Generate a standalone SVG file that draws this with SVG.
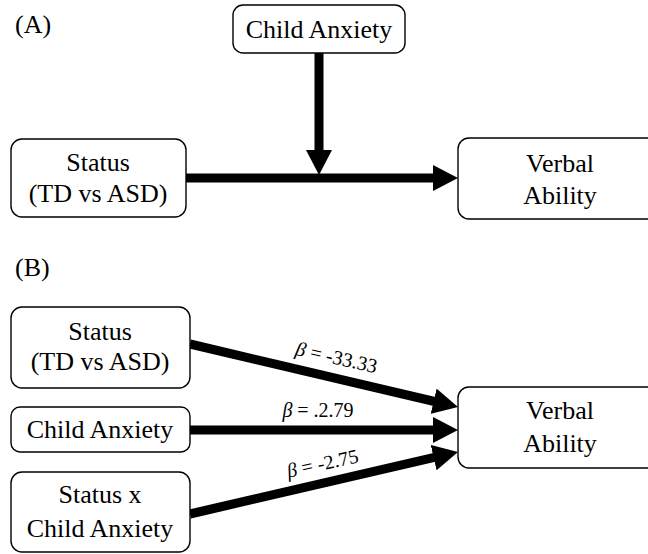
<svg xmlns="http://www.w3.org/2000/svg" width="648" height="554" viewBox="0 0 648 554">
<defs>
<marker id="ah" markerUnits="userSpaceOnUse" markerWidth="25" markerHeight="26" viewBox="0 0 25 26" refX="13" refY="13" orient="auto">
<path d="M0,0 L25,13 L0,26 z" fill="#000"/>
</marker>
</defs>
<g font-family="Liberation Serif" font-size="26" text-anchor="middle" fill="#000">
<text x="15" y="33" text-anchor="start" font-family="Liberation Serif">(A)</text>
<text x="15" y="276" text-anchor="start" font-family="Liberation Serif">(B)</text>
</g>
<g id="connectors" stroke="#000" stroke-width="9" fill="none" marker-end="url(#ah)">
<line x1="186" y1="178" x2="446" y2="178"/>
<line x1="319" y1="53" x2="319" y2="163"/>
<line x1="190" y1="344" x2="446.3" y2="404.25"/>
<line x1="190" y1="430" x2="446" y2="430"/>
<line x1="190" y1="514" x2="446.3" y2="454.7"/>
</g>
<g id="labels" font-size="20" text-anchor="middle" fill="#000">
<text font-family="Liberation Serif" transform="translate(335,364) rotate(12.8)"><tspan font-style="italic">β</tspan> = -33.33</text>
<text font-family="Liberation Serif" transform="translate(318,417)"><tspan font-style="italic">β</tspan> = .2.79</text>
<text font-family="Liberation Serif" transform="translate(324,470) rotate(-12.4)"><tspan font-style="italic">β</tspan> = -2.75</text>
</g>
<g fill="#fff" stroke="#000" stroke-width="1.4">
<g id="a_anx"><rect x="233" y="5" width="172" height="48" rx="10"/><text font-family="Liberation Serif" font-size="26" text-anchor="middle" fill="#000" stroke="none" x="319" y="38">Child Anxiety</text></g>
<g id="a_status"><rect x="11" y="139" width="175" height="78" rx="11"/><text font-family="Liberation Serif" font-size="26" text-anchor="middle" fill="#000" stroke="none" x="98" y="171">Status</text><text font-family="Liberation Serif" font-size="26" text-anchor="middle" fill="#000" stroke="none" x="98" y="202">(TD vs ASD)</text></g>
<g id="a_verbal"><rect x="458" y="138" width="204" height="81" rx="11"/><text font-family="Liberation Serif" font-size="26" text-anchor="middle" fill="#000" stroke="none" x="560" y="172">Verbal</text><text font-family="Liberation Serif" font-size="26" text-anchor="middle" fill="#000" stroke="none" x="560" y="204">Ability</text></g>
<g id="b_status"><rect x="11" y="307" width="179" height="81" rx="11"/><text font-family="Liberation Serif" font-size="26" text-anchor="middle" fill="#000" stroke="none" x="100" y="340">Status</text><text font-family="Liberation Serif" font-size="26" text-anchor="middle" fill="#000" stroke="none" x="100" y="370">(TD vs ASD)</text></g>
<g id="b_anx"><rect x="11" y="407" width="179" height="45" rx="9"/><text font-family="Liberation Serif" font-size="26" text-anchor="middle" fill="#000" stroke="none" x="100" y="438">Child Anxiety</text></g>
<g id="b_inter"><rect x="11" y="472" width="179" height="80" rx="11"/><text font-family="Liberation Serif" font-size="26" text-anchor="middle" fill="#000" stroke="none" x="100" y="503">Status x</text><text font-family="Liberation Serif" font-size="26" text-anchor="middle" fill="#000" stroke="none" x="100" y="537">Child Anxiety</text></g>
<g id="b_verbal"><rect x="458" y="387" width="204" height="81" rx="11"/><text font-family="Liberation Serif" font-size="26" text-anchor="middle" fill="#000" stroke="none" x="560" y="419">Verbal</text><text font-family="Liberation Serif" font-size="26" text-anchor="middle" fill="#000" stroke="none" x="560" y="452">Ability</text></g>
</g>
</svg>
